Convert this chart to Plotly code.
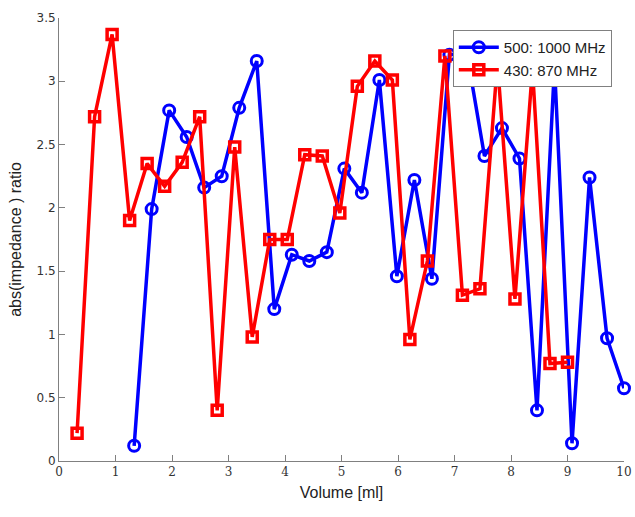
import plotly.graph_objects as go

# Blue series: 500:1000 MHz
x_blue = [1.33, 1.64, 1.95, 2.26, 2.57, 2.88, 3.19, 3.50, 3.81, 4.12, 4.43, 4.74, 5.05, 5.36,
          5.67, 5.98, 6.29, 6.60, 6.91, 7.22, 7.53, 7.84, 8.15, 8.46, 8.77, 9.08, 9.39, 9.70, 10.0]
y_blue = [0.12, 1.99, 2.77, 2.56, 2.16, 2.25, 2.79, 3.16, 1.20, 1.63, 1.58, 1.65, 2.31, 2.12,
          3.01, 1.46, 2.22, 1.44, 3.21, 3.22, 2.41, 2.63, 2.39, 0.40, 3.12, 0.14, 2.24, 0.97, 0.575]

# Red series: 430:870 MHz
x_red = [0.32, 0.63, 0.94, 1.25, 1.56, 1.87, 2.18, 2.49, 2.80, 3.11, 3.42, 3.73, 4.04, 4.35,
         4.66, 4.97, 5.28, 5.59, 5.90, 6.21, 6.52, 6.83, 7.14, 7.45, 7.76, 8.07, 8.38, 8.69, 9.00]
y_red = [0.22, 2.72, 3.37, 1.90, 2.35, 2.17, 2.36, 2.72, 0.40, 2.48, 0.98, 1.75, 1.75, 2.42,
         2.41, 1.96, 2.96, 3.16, 3.01, 0.96, 1.58, 3.20, 1.31, 1.36, 3.15, 1.28, 3.10, 0.77, 0.78]

x_ticks = [0, 1, 2, 3, 4, 5, 6, 7, 8, 9, 10]
y_ticks = [0, 0.5, 1, 1.5, 2, 2.5, 3, 3.5]
y_tick_text = ["0", "0.5", "1", "1.5", "2", "2.5", "3", "3.5"]

fig = go.Figure()
fig.add_trace(go.Scatter(
    x=x_blue, y=y_blue, mode="lines+markers", name="500: 1000 MHz",
    line=dict(color="#0000ff", width=3.5),
    marker=dict(symbol="circle-open", size=11, color="#0000ff", line=dict(width=3)),
    cliponaxis=False,
))
fig.add_trace(go.Scatter(
    x=x_red, y=y_red, mode="lines+markers", name="430: 870 MHz",
    line=dict(color="#ff0000", width=3.5),
    marker=dict(symbol="square-open", size=10, color="#ff0000", line=dict(width=3.5)),
    cliponaxis=False,
))

fig.update_layout(
    width=635, height=517,
    margin=dict(l=59, r=11, t=18, b=56, autoexpand=False),
    paper_bgcolor="white", plot_bgcolor="white",
    showlegend=True,
    legend=dict(
        x=0.697, y=0.973, xanchor="left", yanchor="top",
        bgcolor="white", bordercolor="#808080", borderwidth=1,
        font=dict(family="Liberation Sans", size=15, color="#222222"),
        itemwidth=40, tracegroupgap=0,
    ),
    xaxis=dict(
        range=[0, 10], tickvals=x_ticks, ticks="inside", ticklen=6, tickcolor="#808080",
        showline=True, linecolor="#808080", linewidth=1, showgrid=False, zeroline=False,
        automargin=False,
        tickfont=dict(family="DejaVu Serif", size=12, color="#333333"),
        title=dict(text="Volume [ml]", font=dict(family="Liberation Sans", size=16, color="#222222"), standoff=8),
    ),
    yaxis=dict(
        range=[0, 3.5], tickvals=y_ticks, ticktext=y_tick_text, ticks="inside", ticklen=6, tickcolor="#808080",
        showline=True, linecolor="#808080", linewidth=1, showgrid=False, zeroline=False,
        automargin=False,
        tickfont=dict(family="DejaVu Sans", size=12, color="#333333"),
        title=dict(text="abs(impedance ) ratio", font=dict(family="Liberation Sans", size=16, color="#222222"), standoff=10),
    ),
)

fig.write_html("out.html")
